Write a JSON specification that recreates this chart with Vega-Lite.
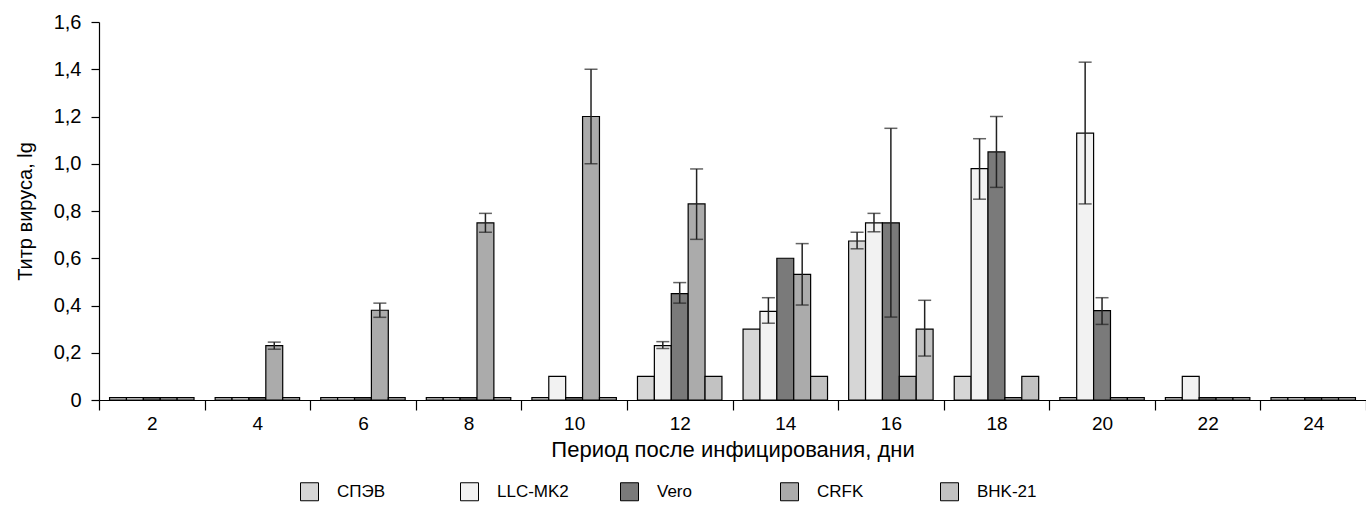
{
  "$schema": "https://vega.github.io/schema/vega-lite/v6.json",
  "width": 1267,
  "height": 378,
  "autosize": "none",
  "padding": {"left": 99, "top": 22, "right": 0, "bottom": 108},
  "background": "white",
  "config": {
    "view": {"stroke": null},
    "font": "Liberation Sans",
    "axis": {"labelFont": "Liberation Sans", "titleFont": "Liberation Sans", "titleFontWeight": "normal", "labelColor": "#000", "titleColor": "#000", "domainColor": "#000", "tickColor": "#000", "grid": false},
    "legend": {"labelFont": "Liberation Sans", "labelFontSize": 17, "labelColor": "#000"}
  },
  "data": {
    "values": [
      {"day": 2, "cell": "СПЭВ", "v": 0.01},
      {"day": 2, "cell": "LLC-MK2", "v": 0.01},
      {"day": 2, "cell": "Vero", "v": 0.01},
      {"day": 2, "cell": "CRFK", "v": 0.01},
      {"day": 2, "cell": "BHK-21", "v": 0.01},
      {"day": 4, "cell": "СПЭВ", "v": 0.01},
      {"day": 4, "cell": "LLC-MK2", "v": 0.01},
      {"day": 4, "cell": "Vero", "v": 0.01},
      {"day": 4, "cell": "CRFK", "v": 0.23, "lo": 0.215, "hi": 0.245},
      {"day": 4, "cell": "BHK-21", "v": 0.01},
      {"day": 6, "cell": "СПЭВ", "v": 0.01},
      {"day": 6, "cell": "LLC-MK2", "v": 0.01},
      {"day": 6, "cell": "Vero", "v": 0.01},
      {"day": 6, "cell": "CRFK", "v": 0.38, "lo": 0.35, "hi": 0.41},
      {"day": 6, "cell": "BHK-21", "v": 0.01},
      {"day": 8, "cell": "СПЭВ", "v": 0.01},
      {"day": 8, "cell": "LLC-MK2", "v": 0.01},
      {"day": 8, "cell": "Vero", "v": 0.01},
      {"day": 8, "cell": "CRFK", "v": 0.75, "lo": 0.71, "hi": 0.79},
      {"day": 8, "cell": "BHK-21", "v": 0.01},
      {"day": 10, "cell": "СПЭВ", "v": 0.01},
      {"day": 10, "cell": "LLC-MK2", "v": 0.1},
      {"day": 10, "cell": "Vero", "v": 0.01},
      {"day": 10, "cell": "CRFK", "v": 1.2, "lo": 1.0, "hi": 1.4},
      {"day": 10, "cell": "BHK-21", "v": 0.01},
      {"day": 12, "cell": "СПЭВ", "v": 0.1},
      {"day": 12, "cell": "LLC-MK2", "v": 0.23, "lo": 0.218, "hi": 0.247},
      {"day": 12, "cell": "Vero", "v": 0.45, "lo": 0.41, "hi": 0.497},
      {"day": 12, "cell": "CRFK", "v": 0.83, "lo": 0.68, "hi": 0.978},
      {"day": 12, "cell": "BHK-21", "v": 0.1},
      {"day": 14, "cell": "СПЭВ", "v": 0.3},
      {"day": 14, "cell": "LLC-MK2", "v": 0.375, "lo": 0.325, "hi": 0.433},
      {"day": 14, "cell": "Vero", "v": 0.6},
      {"day": 14, "cell": "CRFK", "v": 0.532, "lo": 0.402, "hi": 0.662},
      {"day": 14, "cell": "BHK-21", "v": 0.1},
      {"day": 16, "cell": "СПЭВ", "v": 0.673, "lo": 0.64, "hi": 0.71},
      {"day": 16, "cell": "LLC-MK2", "v": 0.75, "lo": 0.712, "hi": 0.79},
      {"day": 16, "cell": "Vero", "v": 0.75, "lo": 0.351, "hi": 1.15},
      {"day": 16, "cell": "CRFK", "v": 0.1},
      {"day": 16, "cell": "BHK-21", "v": 0.3, "lo": 0.186, "hi": 0.422},
      {"day": 18, "cell": "СПЭВ", "v": 0.1},
      {"day": 18, "cell": "LLC-MK2", "v": 0.979, "lo": 0.85, "hi": 1.106},
      {"day": 18, "cell": "Vero", "v": 1.05, "lo": 0.9, "hi": 1.2},
      {"day": 18, "cell": "CRFK", "v": 0.01},
      {"day": 18, "cell": "BHK-21", "v": 0.1},
      {"day": 20, "cell": "СПЭВ", "v": 0.01},
      {"day": 20, "cell": "LLC-MK2", "v": 1.13, "lo": 0.83, "hi": 1.43},
      {"day": 20, "cell": "Vero", "v": 0.378, "lo": 0.32, "hi": 0.433},
      {"day": 20, "cell": "CRFK", "v": 0.01},
      {"day": 20, "cell": "BHK-21", "v": 0.01},
      {"day": 22, "cell": "СПЭВ", "v": 0.01},
      {"day": 22, "cell": "LLC-MK2", "v": 0.1},
      {"day": 22, "cell": "Vero", "v": 0.01},
      {"day": 22, "cell": "CRFK", "v": 0.01},
      {"day": 22, "cell": "BHK-21", "v": 0.01},
      {"day": 24, "cell": "СПЭВ", "v": 0.01},
      {"day": 24, "cell": "LLC-MK2", "v": 0.01},
      {"day": 24, "cell": "Vero", "v": 0.01},
      {"day": 24, "cell": "CRFK", "v": 0.01},
      {"day": 24, "cell": "BHK-21", "v": 0.01}
    ]
  },
  "encoding": {
    "x": {
      "field": "day", "type": "ordinal",
      "scale": {"paddingInner": 0, "paddingOuter": 0},
      "axis": {"title": "Период после инфицирования, дни", "labelAngle": 0, "labelFontSize": 19, "titleFontSize": 22, "tickBand": "extent", "tickSize": 10, "labelPadding": 4, "titlePadding": 6, "domainWidth": 1.2, "tickWidth": 1.2}
    },
    "xOffset": {
      "field": "cell", "type": "nominal",
      "scale": {"domain": ["СПЭВ", "LLC-MK2", "Vero", "CRFK", "BHK-21"], "paddingInner": 0, "paddingOuter": 0.625}
    }
  },
  "layer": [
    {
      "mark": {"type": "bar", "stroke": "#000", "strokeWidth": 1.2},
      "encoding": {
        "y": {
          "field": "v", "type": "quantitative",
          "scale": {"domain": [0, 1.6], "nice": false},
          "axis": {"title": "Титр вируса, lg", "values": [0, 0.2, 0.4, 0.6, 0.8, 1.0, 1.2, 1.4, 1.6], "labelExpr": "datum.value == 0 ? '0' : replace(format(datum.value, '.1f'), '.', ',')", "labelFontSize": 20, "titleFontSize": 20, "tickSize": 8, "labelPadding": 10, "titlePadding": 18, "domainWidth": 1.2, "tickWidth": 1.2}
        },
        "fill": {
          "field": "cell", "type": "nominal",
          "scale": {"domain": ["СПЭВ", "LLC-MK2", "Vero", "CRFK", "BHK-21"], "range": ["#d6d6d6", "#f2f2f2", "#7a7a7a", "#ababab", "#c2c2c2"]},
          "legend": {"title": null, "orient": "none", "legendX": 201, "legendY": 460, "direction": "horizontal", "columns": 5, "gridAlign": "all", "symbolType": "square", "symbolSize": 324, "symbolStrokeColor": "#000", "symbolStrokeWidth": 1, "labelOffset": 18, "columnPadding": 49, "labelLimit": 300}
        }
      }
    },
    {
      "transform": [{"filter": "isValid(datum.hi)"}],
      "mark": {"type": "rule", "color": "#222", "strokeWidth": 1.5},
      "encoding": {
        "y": {"field": "lo", "type": "quantitative"},
        "y2": {"field": "hi"}
      }
    },
    {
      "transform": [{"filter": "isValid(datum.hi)"}],
      "mark": {"type": "tick", "color": "#222", "size": 13, "thickness": 1.5},
      "encoding": {"y": {"field": "hi", "type": "quantitative"}}
    },
    {
      "transform": [{"filter": "isValid(datum.hi)"}],
      "mark": {"type": "tick", "color": "#222", "size": 13, "thickness": 1.5},
      "encoding": {"y": {"field": "lo", "type": "quantitative"}}
    }
  ]
}
